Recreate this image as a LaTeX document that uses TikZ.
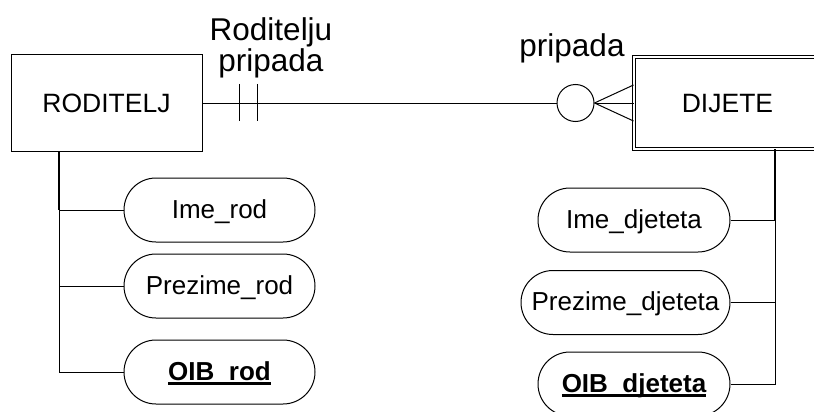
\documentclass[tikz,border=0pt]{standalone}
\usepackage{fontspec}
\setmainfont{Liberation Sans}
\usetikzlibrary{calc}
\newcommand{\keyul}[1]{\setbox0\hbox{#1}\rlap{\vrule height -2.2pt depth 5pt width\wd0}\box0}
\begin{document}
\begin{tikzpicture}[x=1pt,y=-1pt,
  line width=1pt,
  entity/.style={draw, rectangle, minimum width=191pt, minimum height=96pt, inner sep=0pt,
    text height=18pt, text depth=0pt, font=\fontsize{26.5}{28}\selectfont},
  weakentity/.style={entity, double, double distance=2.5pt, minimum width=187pt, minimum height=92pt},
  attr/.style={draw, rectangle, rounded corners=32pt, minimum height=64pt, inner sep=0pt,
    text height=16pt, text depth=0pt, font=\fontsize{26}{28}\selectfont},
  keyattr/.style={attr, font=\fontsize{26}{28}\selectfont\bfseries},
  rel/.style={draw, circle, minimum size=37pt, inner sep=0pt},
  lbl/.style={font=\fontsize{31.5}{31}\selectfont, inner sep=0pt, align=center},
  trunk/.style={line width=1.3pt}
]
\useasboundingbox (0,0) rectangle (814,412);
\clip (0,0) rectangle (814,412);

% entities
\node[entity] (rod) at (106.5,103) {RODITELJ};
\node[weakentity] (dij) at (727.5,103) {DIJETE};

% relationship
\node[rel] (pr) at (575.5,103) {};
\node[lbl, anchor=base] (prl) at (572,57) {pripada};
\node[lbl] (rpl) at (271,48) {Roditelju\\pripada};

\draw (rod.east) -- (pr.west);
\coordinate (t1a) at (239,84); \coordinate (t1b) at (239,121);
\coordinate (t2a) at (257,84); \coordinate (t2b) at (257,121);
\draw (t1a) -- (t1b);
\draw (t2a) -- (t2b);
\draw (pr.east) -- ([yshift=18pt]dij.west);
\draw (pr.east) -- (dij.west);
\draw (pr.east) -- ([yshift=-18pt]dij.west);

% attributes of RODITELJ
\node[attr, minimum width=191pt] (a1) at (219.5,210) {Ime\_rod};
\node[attr, minimum width=191pt] (a2) at (219.5,286) {Prezime\_rod};
\node[keyattr, minimum width=191pt] (a3) at (219.5,372) {\keyul{OIB\_rod}};
\coordinate (lt) at (59,151);
\draw[trunk] (lt) -- (lt |- a1.west);
\draw (lt) |- (a1.west);
\draw (lt) |- (a2.west);
\draw (lt) |- (a3.west);

% attributes of DIJETE
\node[attr, minimum width=192pt] (b1) at (634,220) {Ime\_djeteta};
\node[attr, minimum width=209pt] (b2) at (625.5,302.5) {Prezime\_djeteta};
\node[keyattr, minimum width=192pt] (b3) at (634,384) {\keyul{OIB\_djeteta}};
\coordinate (rt) at (775,149);
\draw[trunk] (rt) -- (rt |- b1.east);
\draw (rt) |- (b1.east);
\draw (rt) |- (b2.east);
\draw (rt) |- (b3.east);
\end{tikzpicture}
\end{document}
